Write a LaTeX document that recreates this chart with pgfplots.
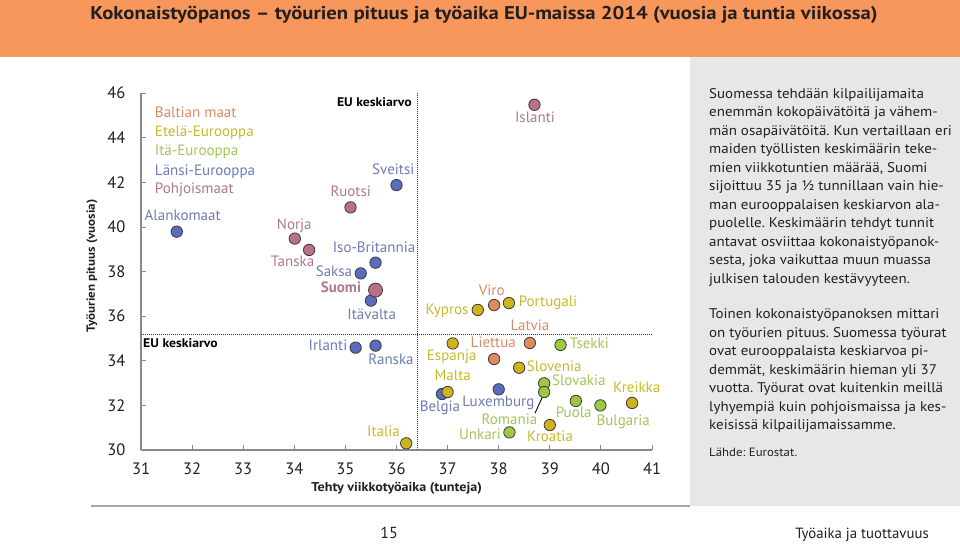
\documentclass[border=0pt]{standalone}
\usepackage{fontspec}
\setmainfont{PT Sans}
\newfontfamily\titlefont[FakeStretch=1.12]{PT Sans}
\newfontfamily\panelfont[FakeStretch=1.07]{PT Sans}
\newfontfamily\labfont[FakeStretch=1.1]{PT Sans}
\usepackage{pgfplots}
\pgfplotsset{compat=1.18}
\frenchspacing
\definecolor{heador}{HTML}{F7975B}
\definecolor{panel}{HTML}{E6E7E8}
\definecolor{titlec}{HTML}{231F20}
\definecolor{axisgray}{HTML}{8A8A8A}
\definecolor{outl}{HTML}{3A3A3A}
\definecolor{fBal}{HTML}{E08A5E}
\definecolor{fSou}{HTML}{CDB41A}
\definecolor{fEas}{HTML}{9CC842}
\definecolor{fWes}{HTML}{5B6CBD}
\definecolor{fNor}{HTML}{B8708C}
\definecolor{tBal}{HTML}{D98A6A}
\definecolor{tSou}{HTML}{C6BA2C}
\definecolor{tEas}{HTML}{A3C55A}
\definecolor{tWes}{HTML}{6E7BB5}
\definecolor{tNor}{HTML}{B07890}
\tikzset{lab/.style={inner sep=0pt, font=\fontsize{15}{15}\selectfont, text height=0.68em, text depth=0pt}}
\newcommand{\pl}[2]{\node[anchor=base west,inner sep=0pt,font=\panelfont\fontsize{14}{14}\selectfont,text=titlec] at (709pt,-#1pt) {#2};}
\begin{document}
\begin{tikzpicture}
\fill[white] (0pt,0pt) rectangle (960pt,-545pt);
\fill[heador] (0pt,0pt) rectangle (960pt,-57pt);
\fill[panel] (690pt,-57pt) rectangle (960pt,-506pt);
\draw[gray!70, line width=2pt] (91pt,-506pt) -- (690pt,-506pt);
\node[anchor=base, inner sep=0pt, font=\titlefont\bfseries\fontsize{18.5}{22}\selectfont, text=titlec] at (484pt,-20pt) {Kokonaistyöpanos – työurien pituus ja työaika EU-maissa 2014 (vuosia ja tuntia viikossa)};
\node[anchor=base, inner sep=0pt, font=\fontsize{16}{18}\selectfont, text=titlec] at (389pt,-538pt) {15};
\node[anchor=base east, inner sep=0pt, font=\fontsize{14.8}{18}\selectfont, text=titlec] at (929pt,-538pt) {Työaika ja tuottavuus};
% panel text
\pl{98.5}{Suomessa tehdään kilpailijamaita}
\pl{117}{enemmän kokopäivätöitä ja vähem-}
\pl{135.5}{män osapäivätöitä. Kun vertaillaan eri}
\pl{154}{maiden työllisten keskimäärin teke-}
\pl{172.5}{mien viikkotuntien määrää, Suomi}
\pl{191}{sijoittuu 35 ja ½ tunnillaan vain hie-}
\pl{209.5}{man eurooppalaisen keskiarvon ala-}
\pl{228}{puolelle. Keskimäärin tehdyt tunnit}
\pl{246.5}{antavat osviittaa kokonaistyöpanok-}
\pl{265}{sesta, joka vaikuttaa muun muassa}
\pl{283.5}{julkisen talouden kestävyyteen.}
\pl{318.5}{Toinen kokonaistyöpanoksen mittari}
\pl{337}{on työurien pituus. Suomessa työurat}
\pl{355.5}{ovat eurooppalaista keskiarvoa pi-}
\pl{374}{demmät, keskimäärin hieman yli 37}
\pl{392.5}{vuotta. Työurat ovat kuitenkin meillä}
\pl{411}{lyhyempiä kuin pohjoismaissa ja kes-}
\pl{429.5}{keisissä kilpailijamaissamme.}
\node[anchor=base west,inner sep=0pt,font=\panelfont\fontsize{12}{12}\selectfont,text=titlec] at (709pt,-456.5pt) {Lähde: Eurostat.};
% axis labels
\node[font=\labfont\bfseries\fontsize{12.8}{12.8}\selectfont, text=titlec] at (396.7pt,-488.3pt) {Tehty viikkotyöaika (tunteja)};
\node[rotate=90, font=\labfont\bfseries\fontsize{11.8}{11.8}\selectfont, text=titlec] at (92pt,-266pt) {Työurien pituus (vuosia)};
\begin{axis}[
  at={(141pt,-450pt)}, anchor=south west,
  width=511pt, height=356.8pt, scale only axis,
  xmin=31, xmax=41, ymin=30, ymax=46,
  axis lines=left, axis line style={-, draw=axisgray, line width=1.2pt},
  xtick={31,32,...,41}, ytick={30,32,...,46},
  tick style={draw=axisgray, line width=1pt}, major tick length=5pt, tick align=inside,
  ticklabel style={font=\fontsize{16.5}{16.5}\selectfont, text=titlec},
  xticklabel style={yshift=-9pt},
  yticklabel style={xshift=-12pt},
  /pgf/number format/assume math mode=true,
  clip=false,
]
% EU average lines
\addplot[black!80, densely dotted, line width=1pt] coordinates {(36.41,30) (36.41,46)};
\addplot[black!80, densely dotted, line width=1pt] coordinates {(31,35.19) (41,35.19)};
% Romania leader
\addplot[black, line width=0.9pt] coordinates {(38.71,31.65) (38.88,32.50)};
% West
\addplot[only marks, mark=*, mark size=5.7pt, mark options={fill=fWes, draw=outl, line width=0.8pt}] coordinates {
(31.70,39.79) (36.00,41.88) (35.59,38.40) (35.30,37.92) (35.50,36.70) (35.20,34.59) (35.59,34.68) (36.89,32.51) (38.00,32.72)};
% North
\addplot[only marks, mark=*, mark size=5.7pt, mark options={fill=fNor, draw=outl, line width=0.8pt}] coordinates {
(34.01,39.48) (34.29,38.97) (35.10,40.88) (38.70,45.48)};
% Baltic
\addplot[only marks, mark=*, mark size=5.7pt, mark options={fill=fBal, draw=outl, line width=0.8pt}] coordinates {
(37.91,36.50) (38.61,34.80) (37.91,34.08)};
% South
\addplot[only marks, mark=*, mark size=5.7pt, mark options={fill=fSou, draw=outl, line width=0.8pt}] coordinates {
(37.59,36.28) (38.20,36.59) (37.10,34.78) (38.40,33.69) (37.00,32.60) (36.19,30.30) (40.61,32.11) (39.00,31.12)};
% East
\addplot[only marks, mark=*, mark size=5.7pt, mark options={fill=fEas, draw=outl, line width=0.8pt}] coordinates {
(39.21,34.71) (38.89,32.99) (38.89,32.60) (39.51,32.20) (39.99,32.00) (38.21,30.79)};
% Suomi
\addplot[only marks, mark=*, mark size=7pt, mark options={fill=fNor, draw=outl, line width=0.8pt}] coordinates {(35.59,37.17)};
% legend texts
\node[lab, anchor=west, text=tBal] at (axis cs:31.27,45.08) {Baltian maat};
\node[lab, anchor=west, text=tSou] at (axis cs:31.27,44.21) {Etelä-Eurooppa};
\node[lab, anchor=west, text=tEas] at (axis cs:31.27,43.38) {Itä-Eurooppa};
\node[lab, anchor=west, text=tWes] at (axis cs:31.27,42.48) {Länsi-Eurooppa};
\node[lab, anchor=west, text=tNor] at (axis cs:31.27,41.66) {Pohjoismaat};
% EU labels
\node[inner sep=0pt, anchor=east, font=\labfont\bfseries\fontsize{12.5}{12.5}\selectfont, text height=0.68em, text depth=0pt] at (axis cs:36.30,45.57) {EU keskiarvo};
\node[inner sep=0pt, anchor=west, font=\labfont\bfseries\fontsize{12.5}{12.5}\selectfont, text height=0.68em, text depth=0pt] at (axis cs:31.04,34.75) {EU keskiarvo};
% West labels
\node[lab, text=tWes] at (axis cs:31.816,40.435) {Alankomaat};
\node[lab, text=tWes] at (axis cs:35.937,42.52) {Sveitsi};
\node[lab, text=tWes] at (axis cs:35.560,39.01) {Iso-Britannia};
\node[lab, text=tWes] at (axis cs:34.777,37.95) {Saksa};
\node[lab, text=tWes] at (axis cs:35.515,36.02) {Itävalta};
\node[lab, text=tWes] at (axis cs:34.659,34.61) {Irlanti};
\node[lab, text=tWes] at (axis cs:35.892,33.99) {Ranska};
\node[lab, text=tWes] at (axis cs:36.851,31.87) {Belgia};
\node[lab, text=tWes] at (axis cs:37.992,32.12) {Luxemburg};
% North labels
\node[lab, text=tNor] at (axis cs:34.0,40.06) {Norja};
\node[lab, text=tNor] at (axis cs:33.965,38.40) {Tanska};
\node[lab, text=tNor] at (axis cs:35.104,41.51) {Ruotsi};
\node[lab, text=tNor] at (axis cs:38.710,44.83) {Islanti};
\node[lab, text=tNor, font=\bfseries\fontsize{15}{15}\selectfont] at (axis cs:34.914,37.21) {Suomi};
% Baltic labels
\node[lab, text=tBal] at (axis cs:37.863,37.10) {Viro};
\node[lab, text=tBal] at (axis cs:38.612,35.53) {Latvia};
\node[lab, text=tBal] at (axis cs:37.894,34.75) {Liettua};
% South labels
\node[lab, text=tSou] at (axis cs:36.988,36.25) {Kypros};
\node[lab, text=tSou] at (axis cs:38.965,36.58) {Portugali};
\node[lab, text=tSou] at (axis cs:37.080,34.16) {Espanja};
\node[lab, text=tSou] at (axis cs:39.086,33.69) {Slovenia};
\node[lab, text=tSou] at (axis cs:37.100,33.26) {Malta};
\node[lab, text=tSou] at (axis cs:35.746,30.78) {Italia};
\node[lab, text=tSou] at (axis cs:40.70,32.74) {Kreikka};
\node[lab, text=tSou] at (axis cs:39.004,30.55) {Kroatia};
% East labels
\node[lab, text=tEas] at (axis cs:39.773,34.71) {Tsekki};
\node[lab, text=tEas] at (axis cs:39.568,33.04) {Slovakia};
\node[lab, text=tEas] at (axis cs:38.211,31.31) {Romania};
\node[lab, text=tEas] at (axis cs:39.468,31.61) {Puola};
\node[lab, text=tEas] at (axis cs:40.438,31.27) {Bulgaria};
\node[lab, text=tEas] at (axis cs:37.634,30.63) {Unkari};
\end{axis}
\end{tikzpicture}
\end{document}
